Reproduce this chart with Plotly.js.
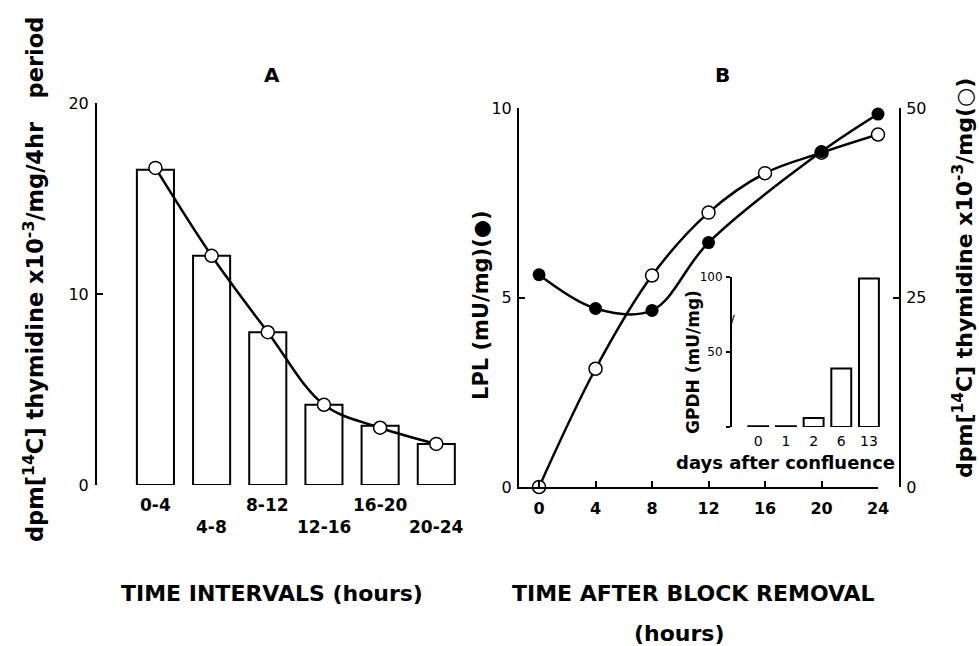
<!DOCTYPE html>
<html>
<head>
<meta charset="utf-8">
<script src="https://cdn.plot.ly/plotly-3.0.1.min.js"></script>
<style>html,body{margin:0;padding:0;background:#fff;}#chart{width:979px;height:646px;}</style>
</head>
<body>
<div id="chart"></div>
<script>
// Panel A: thymidine incorporation per 4-hr interval
const intervals = ["0-4", "4-8", "8-12", "12-16", "16-20", "20-24"];
const barValuesA = [16.5, 12.0, 8.0, 4.2, 3.1, 2.15];
const curveValuesA = [16.6, 12.0, 8.0, 4.2, 3.0, 2.15];

// Panel B: time after block removal
const hoursOpen = [0, 4, 8, 12, 16, 20, 24];
const thymidineB = [0, 15.6, 27.9, 36.2, 41.4, 44.1, 46.5];
const hoursFilled = [0, 4, 8, 12, 20, 24];
const lplB = [5.6, 4.71, 4.66, 6.45, 8.85, 9.84];
const hourTicks = [0, 4, 8, 12, 16, 20, 24];

// Inset: GPDH vs days after confluence
const days = ["0", "1", "2", "6", "13"];
const gpdh = [0.5, 0.5, 6, 39, 99];

const FONT = "DejaVu Sans";
const black = "#000";

const traces = [
  {type: "bar", x: intervals, y: barValuesA, xaxis: "x", yaxis: "y", width: 0.66,
   marker: {color: "#fff", line: {color: black, width: 2}}, hoverinfo: "skip"},
  {type: "scatter", mode: "lines+markers", x: intervals, y: curveValuesA, xaxis: "x", yaxis: "y",
   line: {color: black, width: 2.5, shape: "spline", smoothing: 1}, cliponaxis: false,
   marker: {symbol: "circle", size: 13, color: "#fff", line: {color: black, width: 1.5}}},
  {type: "scatter", mode: "lines+markers", x: hoursOpen, y: thymidineB, xaxis: "x2", yaxis: "y2",
   line: {color: black, width: 2.5, shape: "spline", smoothing: 1}, cliponaxis: false,
   marker: {symbol: "circle", size: 13, color: "#fff", line: {color: black, width: 1.5}}},
  {type: "scatter", mode: "lines+markers", x: hoursFilled, y: lplB, xaxis: "x2", yaxis: "y3",
   line: {color: black, width: 2.5, shape: "spline", smoothing: 1}, cliponaxis: false,
   marker: {symbol: "circle", size: 13, color: black}},
  {type: "bar", x: days, y: gpdh, xaxis: "x3", yaxis: "y4", width: 0.72,
   marker: {color: "#fff", line: {color: black, width: 2}}, hoverinfo: "skip"}
];

const axBase = {showgrid: false, zeroline: false, linecolor: black, tickcolor: black, fixedrange: true};

const P = (px) => px / 979;
const Q = (py) => 1 - py / 646;

const annotations = [];
intervals.forEach((c, i) => {
  annotations.push({text: c, x: c, xref: "x", y: 0, yref: "y", showarrow: false,
    xanchor: "center", yanchor: "middle", yshift: (i % 2 === 0) ? -20 : -42,
    font: {family: FONT, size: 17, weight: "bold", color: black}});
});
function ann(text, x, y, size, angle, weight) {
  annotations.push({text: text, x: P(x), y: Q(y), xref: "paper", yref: "paper", showarrow: false,
    xanchor: "center", yanchor: "middle", textangle: angle || 0,
    font: {family: FONT, size: size, weight: weight || "bold", color: black}});
}
ann("A", 272, 75, 20);
ann("B", 722, 75, 20);
ann("dpm[<sup>14</sup>C] thymidine x10<sup>-3</sup>/mg/4hr\u00a0\u00a0\u00a0period", 33, 280, 22.5, -90);
ann("LPL (mU/mg)(\u25CF)", 481, 305, 21, -90);
ann("dpm[<sup>14</sup>C] thymidine x10<sup>-3</sup>/mg(\u25CB)", 963, 278, 22, -90);
ann("TIME INTERVALS (hours)", 272, 593, 22);
ann("TIME AFTER BLOCK REMOVAL", 693, 593, 22);
ann("(hours)", 679, 633, 22);
ann("GPDH (mU/mg)", 693, 362, 17, -90);
ann("days after confluence", 785, 462, 18);
ann("/", 732, 320, 14, 0, "normal");

const layout = {
  width: 979, height: 646,
  margin: {l: 0, r: 0, t: 0, b: 0},
  paper_bgcolor: "#fff", plot_bgcolor: "rgba(0,0,0,0)",
  showlegend: false,
  font: {family: FONT, color: black},
  xaxis: Object.assign({}, axBase, {domain: [P(97), P(470)], type: "category", range: [-1.04, 5.6],
    showline: false, showticklabels: false, ticks: "", anchor: "y"}),
  yaxis: Object.assign({}, axBase, {domain: [Q(485), Q(103)], range: [0, 20], tickvals: [0, 10, 20],
    ticks: "inside", ticklen: 6, tickwidth: 2, showline: true, linewidth: 2, anchor: "x",
    tickfont: {family: FONT, size: 16}, ticklabelstandoff: 3}),
  xaxis2: Object.assign({}, axBase, {domain: [P(519), P(878)], range: [-1.42, 24], tickvals: hourTicks,
    ticks: "inside", ticklen: 6, tickwidth: 2, showline: true, linewidth: 2, anchor: "y2",
    tickfont: {family: FONT, size: 16, weight: "bold"}, ticklabelstandoff: 6}),
  // right axis: thymidine (open circles)
  yaxis2: Object.assign({}, axBase, {domain: [Q(487), Q(108)], side: "right", anchor: "free", position: P(900),
    range: [0, 50], tickvals: [0, 25, 50], ticks: "inside", ticklen: 6, tickwidth: 2,
    showline: true, linewidth: 2, tickfont: {family: FONT, size: 16}, ticklabelstandoff: 2}),
  // left axis: LPL (filled circles)
  yaxis3: Object.assign({}, axBase, {overlaying: "y2", side: "left", anchor: "x2", range: [0, 10], tickvals: [0, 5, 10],
    ticks: "inside", ticklen: 6, tickwidth: 2, showline: true, linewidth: 2,
    tickfont: {family: FONT, size: 16}, ticklabelstandoff: 2}),
  xaxis3: Object.assign({}, axBase, {domain: [P(732), P(880)], type: "category", range: [-0.95, 4.4],
    showline: false, ticks: "", anchor: "y4", tickfont: {family: FONT, size: 14}, ticklabelstandoff: 4}),
  yaxis4: Object.assign({}, axBase, {domain: [Q(427), Q(277)], range: [0, 100], tickvals: [0, 50, 100],
    ticktext: ["", "50", "100"], ticks: "outside", ticklen: 4, tickwidth: 2, showline: true, linewidth: 2,
    layer: "above traces",
    anchor: "x3", tickfont: {family: FONT, size: 12}, ticklabelstandoff: 1}),
  annotations: annotations
};

Plotly.newPlot("chart", traces, layout, {displayModeBar: false, staticPlot: true});
</script>
</body>
</html>
